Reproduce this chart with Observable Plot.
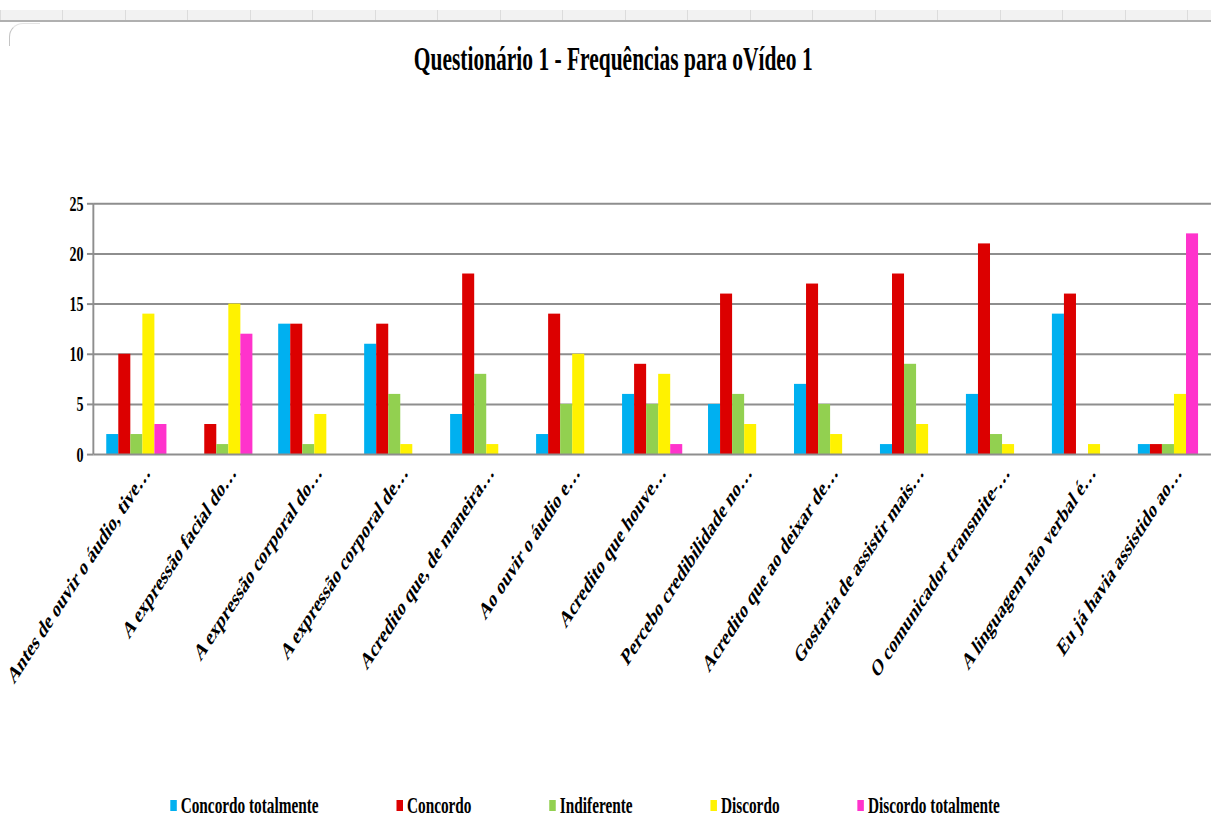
<!DOCTYPE html>
<html><head><meta charset="utf-8">
<script src="https://cdn.jsdelivr.net/npm/d3@7"></script>
<script src="https://cdn.jsdelivr.net/npm/@observablehq/plot@0.6"></script>
<style>
html,body{margin:0;padding:0;background:#fff;overflow:hidden;width:1211px;height:834px;}
#hdr{position:absolute;left:0;top:10px;width:1211px;height:10px;background:repeating-linear-gradient(to right,#dcdcdc 0,#dcdcdc 1px,#f2f2f2 1px,#f2f2f2 62.5px);border-bottom:2px solid #b0b0b0;}
#corner{position:absolute;left:9px;top:23px;width:30px;height:22px;border-left:1.5px solid #c4c4c4;border-top:1.5px solid #e4e4e4;border-top-left-radius:14px;}
#wrap{position:absolute;left:0;top:0;width:1863px;height:834px;transform:scaleX(0.65);transform-origin:0 0;overflow:hidden;font-family:"Liberation Serif","Times New Roman",serif;font-weight:bold;color:#000;}
#title{position:absolute;top:41px;left:12px;width:1863px;text-align:center;font-size:33px;white-space:nowrap;}
#chart{position:absolute;top:100px;left:0;}
#legend{position:absolute;top:792px;left:262px;display:flex;gap:120px;font-size:23.5px;white-space:nowrap;}
.item{display:flex;align-items:center;}
.sw{width:10px;height:11px;margin-right:6px;}
</style>
</head><body>
<div id="hdr"></div>
<div id="corner"></div>
<div id="wrap">
  <div id="title"></div>
  <div id="chart"></div>
  <div id="legend"></div>
</div>
<script>
const chartTitle = "Questionário 1 - Frequências para oVídeo 1";
const questions = [
  "Antes de ouvir o áudio, tive…",
  "A expressão facial do…",
  "A expressão corporal do…",
  "A expressão corporal de…",
  "Acredito que, de maneira…",
  "Ao ouvir o áudio e…",
  "Acredito que houve…",
  "Percebo credibilidade no…",
  "Acredito que ao deixar de…",
  "Gostaria de assistir mais…",
  "O comunicador transmite-…",
  "A linguagem não verbal é…",
  "Eu já havia assistido ao…"
];
const seriesNames = ["Concordo totalmente", "Concordo", "Indiferente", "Discordo", "Discordo totalmente"];
const concordoTotalmente = [2, 0, 13, 11, 4, 2, 6, 5, 7, 1, 6, 14, 1];
const concordo           = [10, 3, 13, 13, 18, 14, 9, 16, 17, 18, 21, 16, 1];
const indiferente        = [2, 1, 1, 6, 8, 5, 5, 6, 5, 9, 2, 0, 1];
const discordo           = [14, 15, 4, 1, 1, 10, 8, 3, 2, 3, 1, 1, 6];
const discordoTotalmente = [3, 12, 0, 0, 0, 0, 1, 0, 0, 0, 0, 0, 22];
const yTicks = [0, 5, 10, 15, 20, 25];

const colors = ["#00B0F0", "#DC0000", "#92D050", "#FFF200", "#FF33CC"];
const seriesValues = [concordoTotalmente, concordo, indiferente, discordo, discordoTotalmente];

const rows = [];
seriesNames.forEach((s, i) => questions.forEach((q, j) => rows.push({q, s, v: seriesValues[i][j]})));

const W = 1894, H = 660, mL = 146, mR = 0, mT = 105, mB = 300;
const pIn = 0.3, pOut = 0.15;
const step = (W - mL - mR) / (questions.length - pIn + 2 * pOut);
const bw = step * (1 - pIn) / seriesNames.length;
const grid = "#8e8e8e";

const leftAxisLine = (index, scales, values, dims) => {
  const g = d3.create("svg:g");
  g.append("line")
    .attr("x1", dims.marginLeft).attr("x2", dims.marginLeft)
    .attr("y1", scales.y(d3.max(yTicks))).attr("y2", scales.y(0))
    .attr("stroke", grid).attr("stroke-width", 3);
  return g.node();
};

const chart = Plot.plot({
  width: W, height: H,
  marginLeft: mL, marginRight: mR, marginTop: mT, marginBottom: mB,
  style: {fontFamily: '"Liberation Serif","Times New Roman",serif', fontWeight: "bold", color: "#000", background: "transparent", overflow: "visible"},
  x: {domain: questions, paddingInner: pIn, paddingOuter: pOut, round: false},
  y: {domain: [0, 25], ticks: yTicks},
  marks: [
    Plot.ruleY(yTicks.filter(d => d > 0), {stroke: grid, strokeWidth: 2}),
    ...seriesNames.map((s, i) => Plot.barY(rows.filter(r => r.s === s), {
      x: "q", y: "v", fill: colors[i],
      insetLeft: i * bw, insetRight: (seriesNames.length - 1 - i) * bw
    })),
    Plot.ruleY([0], {stroke: grid, strokeWidth: 2}),
    leftAxisLine,
    Plot.axisY({ticks: yTicks, tickSize: 10, tickPadding: 6, fontSize: 22, stroke: grid, strokeWidth: 2, fill: "#000", label: null}),
    Plot.axisX({tickRotate: -45, tickSize: 0, tickPadding: 0, fontSize: 24, label: null, fill: "#000", dx: 17, dy: 14})
  ]
});
document.getElementById("chart").appendChild(chart);
document.getElementById("title").textContent = chartTitle;

const legend = document.getElementById("legend");
seriesNames.forEach((s, i) => {
  const it = document.createElement("div");
  it.className = "item";
  const sw = document.createElement("span");
  sw.className = "sw";
  sw.style.background = colors[i];
  const t = document.createElement("span");
  t.textContent = s;
  it.appendChild(sw); it.appendChild(t);
  legend.appendChild(it);
});
</script>
</body></html>
